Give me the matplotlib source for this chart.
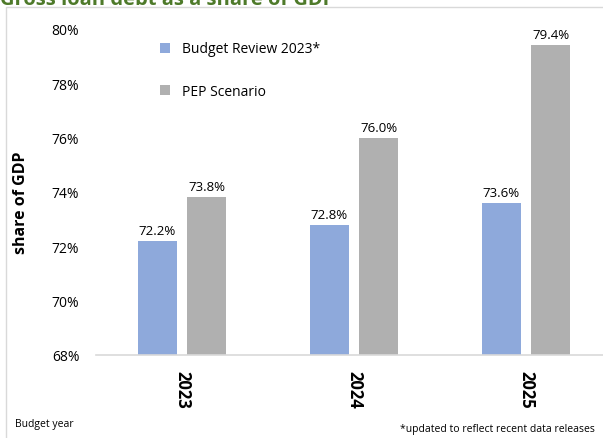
import matplotlib.pyplot as plt
import numpy as np
from matplotlib.patches import Rectangle

plt.rcParams["font.family"] = ["Open Sans", "DejaVu Sans"]

years = ["2023", "2024", "2025"]
budget_review = [72.2, 72.8, 73.6]
pep_scenario = [73.8, 76.0, 79.4]
series_names = ["Budget Review 2023*", "PEP Scenario"]
BLUE, GREY = "#8EA9DB", "#B0B0B0"

fig = plt.figure(figsize=(6.03, 4.39), dpi=100)
# chart frame
fig.patches.append(Rectangle((6 / 603, -0.01), 1.0, 1 - 8 / 439 + 0.01,
                             transform=fig.transFigure, fill=False,
                             edgecolor="#D9D9D9", lw=1.0))
# title is clipped at the top edge, as in the source
fig.text(0.0, 1.0, "Gross loan debt as a share of GDP", color="#4E7A2A",
         fontsize=14.5, fontweight="bold", ha="left", va="center")

ax = fig.add_axes([96 / 603, 1 - 356 / 439, 516 / 603, 326 / 439])
x = np.arange(len(years))
w = 0.227
off = 0.143
ax.bar(x - off, [v - 68 for v in budget_review], w, bottom=68, color=BLUE,
       label=series_names[0])
ax.bar(x + off, [v - 68 for v in pep_scenario], w, bottom=68, color=GREY,
       label=series_names[1])
for xi, v in zip(x - off, budget_review):
    ax.text(xi, v + 0.15, f"{v:.1f}%", ha="center", va="bottom", fontsize=9.5)
for xi, v in zip(x + off, pep_scenario):
    ax.text(xi, v + 0.15, f"{v:.1f}%", ha="center", va="bottom", fontsize=9.5)

ax.set_xlim(-0.5, 2.5)
ax.set_ylim(68, 80)
ax.set_yticks(np.arange(68, 81, 2))
ax.set_yticklabels([f"{t}%" for t in range(68, 81, 2)], fontsize=10)
ax.tick_params(axis="y", length=0, pad=12)
ax.set_xticks(x)
ax.set_xticklabels(years, rotation=-90, fontsize=12, fontweight="bold")
ax.tick_params(axis="x", length=0, pad=11)
for s in ["top", "right", "left"]:
    ax.spines[s].set_visible(False)
ax.spines["bottom"].set_color("#D9D9D9")
ax.spines["bottom"].set_linewidth(1.2)

ax.set_ylabel("share of GDP", fontsize=11.5, fontweight="bold")
ax.yaxis.set_label_coords(-0.13, 0.47)

ax.legend(loc="upper left", bbox_to_anchor=(0.1, 1.0), frameon=False,
          fontsize=10, handlelength=0.7, handleheight=0.7, labelspacing=1.95,
          handletextpad=0.9)

fig.text(15 / 603, 1 - 425 / 439, "Budget year", fontsize=7.5, va="center")
fig.text(595 / 603, 1 - 430 / 439, "*updated to reflect recent data releases",
         fontsize=7.5, ha="right", va="center")

fig.savefig("out.png", dpi=100)
